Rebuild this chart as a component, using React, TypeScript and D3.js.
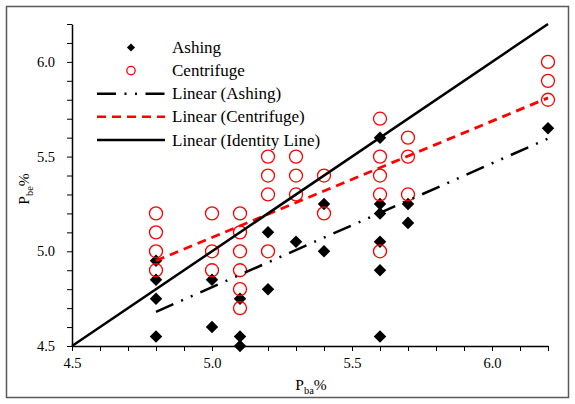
import React, { useEffect, useRef } from "react";
import * as d3 from "d3";

const WIDTH = 575;
const HEIGHT = 404;

// Ashing (diamonds)
const ASHING_X = [4.8, 4.8, 4.8, 4.8, 5.0, 5.0, 5.1, 5.1, 5.1, 5.2, 5.2, 5.3, 5.4, 5.4, 5.6, 5.6, 5.6, 5.6, 5.6, 5.6, 5.7, 5.7, 6.2];
const ASHING_Y = [4.95, 4.85, 4.75, 4.55, 4.85, 4.6, 4.75, 4.55, 4.5, 5.1, 4.8, 5.05, 5.25, 5.0, 5.6, 5.25, 5.2, 5.05, 4.9, 4.55, 5.25, 5.15, 5.65];

// Centrifuge (circles)
const CENTRIFUGE_X = [4.8, 4.8, 4.8, 4.8, 5.0, 5.0, 5.0, 5.1, 5.1, 5.1, 5.1, 5.1, 5.1, 5.2, 5.2, 5.2, 5.2, 5.3, 5.3, 5.3, 5.4, 5.4, 5.6, 5.6, 5.6, 5.6, 5.6, 5.7, 5.7, 5.7, 6.2, 6.2, 6.2];
const CENTRIFUGE_Y = [5.2, 5.1, 5.0, 4.9, 5.2, 5.0, 4.9, 5.2, 5.1, 5.0, 4.9, 4.8, 4.7, 5.5, 5.4, 5.3, 5.0, 5.5, 5.4, 5.3, 5.4, 5.2, 5.7, 5.5, 5.4, 5.3, 5.0, 5.6, 5.5, 5.3, 6.0, 5.9, 5.8];

// trendline end points (x, y)
const FIT_X = [4.8, 6.2];
const ASHING_FIT = [4.68, 5.595];
const CENTRIFUGE_FIT = [4.95, 5.81];
const IDENTITY_X = [4.5, 6.2];
const IDENTITY_Y = [4.5, 6.2];

const X_DOMAIN = [4.5, 6.2];
const Y_DOMAIN = [4.5, 6.2];
const MAJOR_TICKS = [4.5, 5.0, 5.5, 6.0];

const LEGEND = ["Ashing", "Centrifuge", "Linear (Ashing)", "Linear (Centrifuge)", "Linear (Identity Line)"];

const FONT = '"Liberation Serif", "DejaVu Serif", serif';
const ASH_DASH = "19,8.5,2,8.5,2,8.5";
const CEN_DASH = "9,6";

function Chart() {
  const ref = useRef<SVGSVGElement>(null);

  useEffect(() => {
    if (!ref.current) return;
    document.body.style.margin = "0";

    const svg = d3.select(ref.current);
    svg.selectAll("*").remove();
    svg
      .attr("width", WIDTH)
      .attr("height", HEIGHT)
      .style("display", "block")
      .style("font-family", FONT);

    const x = d3.scaleLinear().domain(X_DOMAIN).range([72, 548]);
    const y = d3.scaleLinear().domain(Y_DOMAIN).range([346, 24]);

    svg
      .append("rect")
      .attr("x", 6.5)
      .attr("y", 6.5)
      .attr("width", 562)
      .attr("height", 391)
      .attr("fill", "#fff")
      .attr("stroke", "#595959")
      .attr("stroke-width", 1.5);

    const minor = d3.range(0, 18).map((i) => 4.5 + i * 0.1);
    const fmt = (d: d3.NumberValue) =>
      MAJOR_TICKS.some((m) => Math.abs(m - +d) < 1e-6) ? d3.format(".1f")(+d) : "";

    const xAxis = svg
      .append("g")
      .attr("transform", `translate(0 ${y(4.5)})`)
      .call(d3.axisBottom(x).tickValues(minor).tickSize(5).tickSizeOuter(0).tickFormat(fmt));

    const yAxis = svg
      .append("g")
      .attr("transform", `translate(${x(4.5)} 0)`)
      .call(d3.axisLeft(y).tickValues(minor).tickSize(5).tickSizeOuter(0).tickFormat(fmt));

    [xAxis, yAxis].forEach((axis) => {
      axis.attr("font-family", null).attr("font-size", null);
      axis.select(".domain").attr("stroke", "#000").attr("stroke-width", 1.5);
      axis.selectAll(".tick line").attr("stroke", "#000").attr("stroke-width", 1);
      axis
        .selectAll(".tick text")
        .attr("fill", "#000")
        .style("font-family", FONT)
        .style("font-size", "14.5px");
    });
    xAxis.selectAll(".tick text").attr("y", 12);
    yAxis.selectAll(".tick text").attr("x", -17);

    // axis titles
    const xTitle = svg
      .append("text")
      .attr("x", 311)
      .attr("y", 390)
      .attr("text-anchor", "middle")
      .style("font-family", FONT)
      .style("font-size", "15.5px");
    xTitle.append("tspan").text("P");
    xTitle.append("tspan").style("font-size", "10.5px").attr("dy", 4).text("ba");
    xTitle.append("tspan").attr("dy", -4).text("%");

    const yTitle = svg
      .append("text")
      .attr("transform", `translate(29 189) rotate(-90)`)
      .attr("text-anchor", "middle")
      .style("font-family", FONT)
      .style("font-size", "15.5px");
    yTitle.append("tspan").text("P");
    yTitle.append("tspan").style("font-size", "10.5px").attr("dy", 4).text("be");
    yTitle.append("tspan").attr("dy", -4).text("%");

    const diamond = d3.symbol().type(d3.symbolDiamond2).size(100);
    const ashing = ASHING_X.map((v, i) => [v, ASHING_Y[i]]);
    const centrifuge = CENTRIFUGE_X.map((v, i) => [v, CENTRIFUGE_Y[i]]);

    svg
      .append("g")
      .selectAll("path")
      .data(ashing)
      .enter()
      .append("path")
      .attr("d", diamond)
      .attr("transform", (d) => `translate(${x(d[0])} ${y(d[1])})`)
      .attr("fill", "#000");

    svg
      .append("g")
      .selectAll("circle")
      .data(centrifuge)
      .enter()
      .append("circle")
      .attr("cx", (d) => x(d[0]))
      .attr("cy", (d) => y(d[1]))
      .attr("r", 6.5)
      .attr("fill", "none")
      .attr("stroke", "#ff0000")
      .attr("stroke-width", 1.3);

    const line = d3
      .line<number[]>()
      .x((d) => x(d[0]))
      .y((d) => y(d[1]));

    svg
      .append("path")
      .attr("d", line(FIT_X.map((v, i) => [v, ASHING_FIT[i]])))
      .attr("fill", "none")
      .attr("stroke", "#000")
      .attr("stroke-width", 2.5)
      .attr("stroke-dasharray", ASH_DASH);

    svg
      .append("path")
      .attr("d", line(FIT_X.map((v, i) => [v, CENTRIFUGE_FIT[i]])))
      .attr("fill", "none")
      .attr("stroke", "#ff0000")
      .attr("stroke-width", 2.8)
      .attr("stroke-dasharray", CEN_DASH);

    svg
      .append("path")
      .attr("d", line(IDENTITY_X.map((v, i) => [v, IDENTITY_Y[i]])))
      .attr("fill", "none")
      .attr("stroke", "#000")
      .attr("stroke-width", 2.5);

    // legend
    const legend = svg
      .append("g")
      .selectAll("g")
      .data(LEGEND)
      .enter()
      .append("g")
      .attr("transform", (_, i) => `translate(0 ${47.5 + i * 23.1})`);

    legend
      .append("text")
      .attr("x", 172)
      .attr("dy", "0.33em")
      .style("font-family", FONT)
      .style("font-size", "17px")
      .attr("fill", "#000")
      .text((d) => d);

    legend
      .filter((_, i) => i === 0)
      .append("path")
      .attr("d", d3.symbol().type(d3.symbolDiamond2).size(42))
      .attr("transform", "translate(131 0)")
      .attr("fill", "#000");

    legend
      .filter((_, i) => i === 1)
      .append("circle")
      .attr("cx", 131)
      .attr("r", 4.2)
      .attr("fill", "none")
      .attr("stroke", "#ff0000")
      .attr("stroke-width", 1.3);

    const styles = [
      { stroke: "#000", dash: ASH_DASH },
      { stroke: "#ff0000", dash: CEN_DASH },
      { stroke: "#000", dash: null },
    ];

    legend
      .filter((_, i) => i >= 2)
      .append("line")
      .attr("x1", 97)
      .attr("x2", 165)
      .attr("stroke", (_, i) => styles[i].stroke)
      .attr("stroke-width", 2.5)
      .attr("stroke-dasharray", (_, i) => styles[i].dash);
  }, []);

  return <svg ref={ref} />;
}

export default function App() {
  return <Chart />;
}
